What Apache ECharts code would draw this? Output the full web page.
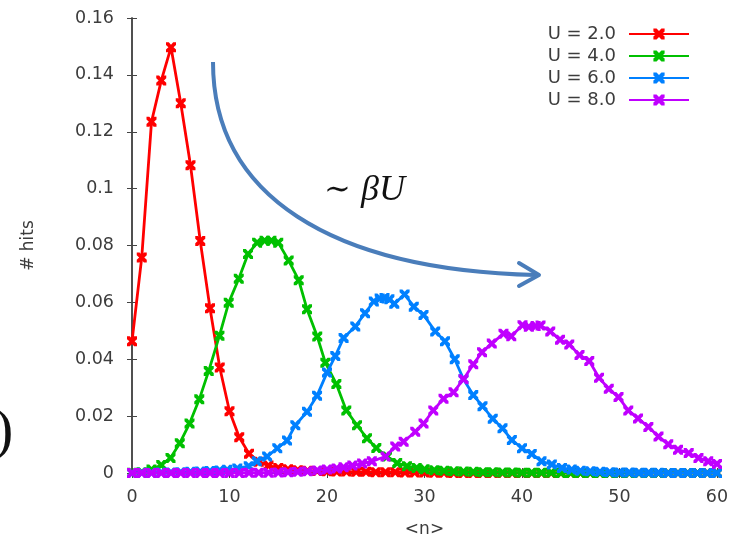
<!DOCTYPE html>
<html>
<head>
<meta charset="utf-8">
<script src="https://cdn.jsdelivr.net/npm/echarts@6/dist/echarts.min.js"></script>
<style>
  html, body { margin: 0; padding: 0; background: #fff; }
  #main { width: 733px; height: 543px; }
</style>
</head>
<body>
<div id="main"></div>
<script>
// histogram of <n>, one curve per U   [n, hits]
var seriesNames = ['U = 2.0', 'U = 4.0', 'U = 6.0', 'U = 8.0'];
var seriesColors = ['#ff0000', '#00c000', '#0080ff', '#c000ff'];

var hitsU2 = [
  [0,0.0463],[1,0.0758],[2,0.1235],[3,0.138],[4,0.1497],[5,0.130],[6,0.1082],[7,0.0816],
  [8,0.0579],[9,0.0371],[10,0.0217],[11,0.0126],[12,0.0068],[13,0.0040],[14,0.0026],
  [15,0.0018],[16,0.0013],[17,0.0010],[18,0.0008],[19,0.0007],[20,0.0006],[21,0.0005],
  [22,0.0005],[23,0.0004],[24,0.0004],[25,0.0003],[26,0.0003],[27,0.0003],[28,0.0002],
  [29,0.0002],[30,0.0002],[31,0.0001],[32,0.0001],[33,0],[34,0],[35,0],[36,0],[37,0],
  [38,0],[39,0],[40,0],[41,0],[42,0],[43,0],[44,0],[45,0],[46,0],[47,0],[48,0],[49,0],
  [50,0],[51,0],[52,0],[53,0],[54,0],[55,0],[56,0],[57,0],[58,0],[59,0],[60,0]
];

var hitsU4 = [
  [0,0.0001],[1,0.0003],[2,0.0012],[3,0.0028],[3.95,0.0053],[4.9,0.0105],[5.9,0.0174],
  [6.9,0.0259],[7.87,0.0359],[8.97,0.0483],[9.92,0.0599],[10.95,0.0683],[11.9,0.077],
  [12.83,0.081],[13.6,0.0817],[14.3,0.0817],[15.0,0.081],[16.07,0.0747],[17.1,0.0678],
  [17.95,0.0576],[19,0.048],[19.83,0.0388],[20.96,0.0313],[21.98,0.022],[23.08,0.0168],
  [24.1,0.0122],[25.06,0.0088],[26.15,0.0058],[27.2,0.0035],[28.2,0.0024],[29.2,0.0018],
  [30,0.0013],[31,0.001],[32,0.0008],[33,0.0006],[34,0.0005],[35,0.0004],[36,0.0003],
  [37,0.0003],[38,0.0002],[39,0.0002],[40,0.0001],[41,0.0001],[42,0.0001],[43,0.0001],
  [44,0],[45,0],[46,0],[47,0],[48,0],[49,0],[50,0],[51,0],[52,0],[53,0],[54,0],[55,0],
  [56,0],[57,0],[58,0],[59,0],[60,0]
];

var hitsU6 = [
  [0,0],[1,0.0001],[2,0.0001],[3,0.0002],[4,0.0002],[5,0.0003],[6,0.0004],[7,0.0005],
  [8,0.0007],[9,0.0009],[9.76,0.0011],[10.8,0.0016],[11.97,0.0024],[12.8,0.0041],
  [13.86,0.0058],[14.9,0.0087],[15.9,0.0114],[16.75,0.0168],[17.95,0.0215],[18.98,0.0272],
  [20,0.0353],[20.85,0.0411],[21.7,0.0475],[22.9,0.0515],[23.9,0.0562],[24.8,0.0603],
  [25.4,0.0614],[25.9,0.0615],[26.4,0.0611],[26.9,0.0595],[27.96,0.0628],[28.9,0.0585],
  [29.9,0.0556],[31.1,0.0498],[32.1,0.0463],[33.1,0.0400],[34,0.033],[35,0.0274],
  [35.95,0.0235],[37,0.0191],[38,0.0157],[38.96,0.0116],[40,0.0087],[41,0.0067],[42,0.0041],
  [43.06,0.003],[44.1,0.0018],[45.1,0.0012],[46,0.0008],[47,0.0006],[48,0.0004],[49,0.0003],
  [50,0.0002],[51,0.0002],[52,0.0001],[53,0.0001],[54,0.0001],[55,0],[56,0],[57,0],
  [58,0],[59,0],[60,0]
];

var hitsU8 = [
  [0,0],[1,0],[2,0],[3,0],[4,0],[5,0],[6,0],[7,0],[8,0],[9,0],[10,0],[11,0],[12,0.0001],
  [13,0.0001],[14,0.0001],[15,0.0002],[16,0.0003],[17,0.0004],[18,0.0006],[19,0.0009],
  [20,0.0012],[21,0.0016],[21.7,0.002],[22.6,0.0026],[23.6,0.0033],[24.6,0.0041],[26,0.0058],
  [27,0.0093],[27.86,0.011],[29.05,0.0145],[29.9,0.0174],[30.9,0.022],[31.95,0.0261],
  [32.98,0.0284],[34,0.033],[35,0.0382],[35.9,0.0425],[36.9,0.0455],[38.1,0.049],[38.9,0.0481],
  [40.05,0.052],[40.7,0.0514],[41.4,0.0517],[41.9,0.0519],[42.9,0.0498],[43.9,0.0469],
  [44.85,0.0452],[45.9,0.0415],[46.9,0.0394],[47.9,0.0335],[48.9,0.0296],[49.9,0.0267],
  [50.9,0.022],[51.9,0.0192],[52.96,0.0162],[54,0.0128],[55,0.0101],[56,0.0082],[57.1,0.007],
  [58.1,0.0053],[59.1,0.0041],[60,0.0032]
];

var allHits = [hitsU2, hitsU4, hitsU6, hitsU8];

// gnuplot style bold "x" point
var crossSymbol = 'path://M0,0 L2.8,0 L5,2.4 L7.2,0 L10,0 L10,2.8 L7.6,5 L10,7.2 L10,10 L7.2,10 L5,7.6 L2.8,10 L0,10 L0,7.2 L2.4,5 L0,2.8 Z';

var textColor = '#3c3c3c';
var frameColor = '#444';

var myChart = echarts.init(document.getElementById('main'));

var series = [];
for (var i = 0; i < allHits.length; i++) {
  series.push({
    type: 'line',
    name: seriesNames[i],
    data: allHits[i],
    symbol: crossSymbol,
    symbolSize: 10,
    showAllSymbol: true,
    color: seriesColors[i],
    lineStyle: { width: 2.8, color: seriesColors[i] },
    itemStyle: { color: seriesColors[i] },
    z: 2 + i
  });
}

var option = {
  backgroundColor: '#fff',
  animation: false,
  grid: { left: 132, right: 16, top: 18, bottom: 64.5, containLabel: false },
  legend: {
    orient: 'vertical',
    right: 38,
    top: 20,
    align: 'right',
    itemWidth: 60,
    itemHeight: 14,
    itemGap: 4,
    data: seriesNames,
    textStyle: { fontFamily: 'DejaVu Sans', fontSize: 18, color: textColor, padding: [0, 8, 0, 0] }
  },
  xAxis: [{
    type: 'value',
    min: 0, max: 60, interval: 10,
    name: '<n>',
    nameLocation: 'middle',
    nameGap: 48,
    nameTextStyle: { fontFamily: 'DejaVu Sans', fontSize: 17, color: textColor },
    axisLine: { show: true, onZero: false, lineStyle: { color: '#222', width: 1.5 } },
    axisTick: { show: true, inside: true, length: 5, lineStyle: { color: frameColor } },
    axisLabel: { margin: 15, fontFamily: 'DejaVu Sans', fontSize: 17.5, color: textColor },
    splitLine: { show: false }
  }, {
    type: 'value',
    position: 'top',
    min: 0, max: 60, interval: 10,
    axisLine: { show: true, lineStyle: { color: frameColor, width: 1.5 } },
    axisTick: { show: true, inside: true, length: 5, lineStyle: { color: frameColor } },
    axisLabel: { show: false },
    splitLine: { show: false }
  }],
  yAxis: [{
    type: 'value',
    min: 0, max: 0.16, interval: 0.02,
    name: '# hits',
    nameLocation: 'middle',
    nameGap: 95,
    nameTextStyle: { fontFamily: 'DejaVu Sans', fontSize: 17, color: textColor },
    axisLine: { show: true, lineStyle: { color: frameColor, width: 1.5 } },
    axisTick: { show: true, inside: true, length: 5, lineStyle: { color: frameColor } },
    axisLabel: { margin: 18, fontFamily: 'DejaVu Sans', fontSize: 17.5, color: textColor },
    splitLine: { show: false }
  }, {
    type: 'value',
    position: 'right',
    min: 0, max: 0.16, interval: 0.02,
    axisLine: { show: true, lineStyle: { color: frameColor, width: 1.5 } },
    axisTick: { show: true, inside: true, length: 5, lineStyle: { color: frameColor } },
    axisLabel: { show: false },
    splitLine: { show: false }
  }],
  series: series,
  graphic: [
    // the blue arrow ~ beta U
    {
      type: 'bezierCurve',
      shape: { x1: 213, y1: 62, cpx1: 213, cpy1: 195, cpx2: 330, cpy2: 270, x2: 536, y2: 275 },
      style: { stroke: '#4a7dba', lineWidth: 4, fill: null },
      z: 10
    },
    {
      type: 'polyline',
      shape: { points: [[519, 263], [539, 275], [519, 286]] },
      style: { stroke: '#4a7dba', lineWidth: 4, fill: null, lineCap: 'round', lineJoin: 'round' },
      z: 10
    },
    {
      type: 'text',
      x: 324, y: 191,
      style: {
        text: '{a|∼ }{b|βU}',
        verticalAlign: 'middle',
        rich: {
          a: { fontFamily: 'DejaVu Serif', fontSize: 32, fill: '#111' },
          b: { fontFamily: 'Liberation Serif', fontStyle: 'italic', fontSize: 36, fill: '#111' }
        }
      },
      z: 10
    },
    // bit of a cut off equation on the left edge
    {
      type: 'text',
      x: -6, y: 433,
      style: { text: ')', fontFamily: 'Liberation Serif', fontSize: 58, fill: '#111', verticalAlign: 'middle' },
      z: 10
    }
  ]
};

myChart.setOption(option);
</script>
</body>
</html>
